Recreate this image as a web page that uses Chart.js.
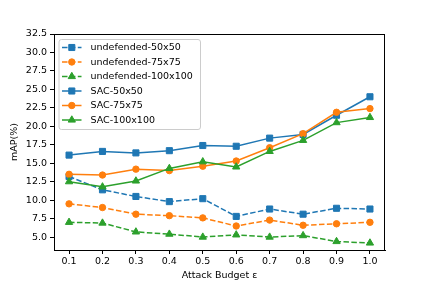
<!DOCTYPE html>
<html><head><meta charset="utf-8">
<script src="https://cdn.jsdelivr.net/npm/chart.js@4"></script>
<style>html,body{margin:0;padding:0;background:#fff;} canvas{display:block;}</style>
</head><body>
<canvas id="c" width="428" height="286"></canvas>
<script>
const budgets = [0.1, 0.2, 0.3, 0.4, 0.5, 0.6, 0.7, 0.8, 0.9, 1.0];
const undef50  = [13.2, 11.4, 10.5, 9.8, 10.2, 7.8, 8.8, 8.1, 8.9, 8.8];
const undef75  = [9.5, 9.0, 8.1, 7.9, 7.6, 6.5, 7.3, 6.6, 6.8, 7.0];
const undef100 = [7.0, 6.9, 5.7, 5.4, 5.0, 5.3, 5.0, 5.2, 4.4, 4.2];
const sac50    = [16.1, 16.6, 16.4, 16.7, 17.4, 17.3, 18.4, 18.9, 21.5, 24.0];
const sac75    = [13.5, 13.4, 14.2, 14.0, 14.6, 15.3, 17.1, 19.0, 21.9, 22.4];
const sac100   = [12.5, 11.8, 12.6, 14.3, 15.2, 14.5, 16.6, 18.1, 20.5, 21.2];
const yTicks = [5.0, 7.5, 10.0, 12.5, 15.0, 17.5, 20.0, 22.5, 25.0, 27.5, 30.0, 32.5];
const seriesNames = ['undefended-50x50','undefended-75x75','undefended-100x100','SAC-50x50','SAC-75x75','SAC-100x100'];

const BLUE='#1f77b4', ORANGE='#ff7f0e', GREEN='#2ca02c';
const FONT = "'DejaVu Sans', sans-serif";
const DASH = [5.5, 2.4];
const specs = [
  {data: undef50, color: BLUE, shape: 'rect', r: 4.3, dash: DASH},
  {data: undef75, color: ORANGE, shape: 'circle', r: 3.2, dash: DASH},
  {data: undef100, color: GREEN, shape: 'triangle', r: 4.2, dash: DASH},
  {data: sac50, color: BLUE, shape: 'rect', r: 4.3, dash: []},
  {data: sac75, color: ORANGE, shape: 'circle', r: 3.2, dash: []},
  {data: sac100, color: GREEN, shape: 'triangle', r: 4.2, dash: []},
];

const datasets = specs.map((s, i) => ({
  label: seriesNames[i],
  data: budgets.map((b, j) => ({x: b, y: s.data[j]})),
  borderColor: s.color,
  backgroundColor: s.color,
  borderWidth: 1.5,
  borderDash: s.dash,
  pointStyle: s.shape,
  pointRadius: s.r,
  pointBorderWidth: 1,
  pointBackgroundColor: s.color,
  pointBorderColor: s.color,
  tension: 0,
  fill: false,
  order: 10 - i
}));

function drawMarker(ctx, shape, x, y, r, color) {
  ctx.save();
  ctx.fillStyle = color; ctx.strokeStyle = color; ctx.lineWidth = 1; ctx.setLineDash([]);
  ctx.beginPath();
  if (shape === 'rect') {
    const s = Math.SQRT1_2 * r;
    ctx.rect(x - s, y - s, 2 * s, 2 * s);
  } else if (shape === 'circle') {
    ctx.arc(x, y, r, 0, Math.PI * 2);
  } else {
    let rad = 0;
    ctx.moveTo(x + Math.sin(rad) * r, y - Math.cos(rad) * r);
    rad += 2 * Math.PI / 3;
    ctx.lineTo(x + Math.sin(rad) * r, y - Math.cos(rad) * r);
    rad += 2 * Math.PI / 3;
    ctx.lineTo(x + Math.sin(rad) * r, y - Math.cos(rad) * r);
    ctx.closePath();
  }
  ctx.fill(); ctx.stroke();
  ctx.restore();
}

const framePlugin = {
  id: 'frame',
  afterDraw(chart) {
    const {ctx, chartArea: a} = chart;
    ctx.save();
    ctx.strokeStyle = '#000'; ctx.lineWidth = 1;
    ctx.strokeRect(Math.round(a.left) + 0.5, Math.round(a.top) + 0.5, Math.round(a.right - a.left) - 1, Math.round(a.bottom - a.top));
    ctx.restore();
  }
};

const legendPlugin = {
  id: 'mplLegend',
  afterDraw(chart) {
    const {ctx, chartArea: a} = chart;
    const x0 = a.left + 4.5, y0 = a.top + 5, w = 141.5, h = 90;
    ctx.save();
    ctx.beginPath();
    if (ctx.roundRect) ctx.roundRect(x0 + 0.5, y0 + 0.5, w, h, 2.5); else ctx.rect(x0 + 0.5, y0 + 0.5, w, h);
    ctx.fillStyle = 'rgba(255,255,255,0.8)';
    ctx.fill();
    ctx.strokeStyle = '#cccccc'; ctx.lineWidth = 1; ctx.stroke();
    ctx.font = "9.5px " + FONT;
    ctx.textBaseline = 'middle';
    specs.forEach((s, i) => {
      const y = y0 + 8.5 + i * 14.5;
      ctx.strokeStyle = s.color; ctx.lineWidth = 1.5; ctx.setLineDash(s.dash);
      ctx.beginPath(); ctx.moveTo(x0 + 3.5, y); ctx.lineTo(x0 + 23, y); ctx.stroke();
      drawMarker(ctx, s.shape, x0 + 13.3, y, s.r, s.color);
      ctx.fillStyle = '#000';
      ctx.fillText(seriesNames[i], x0 + 32, y + 0.5);
    });
    ctx.restore();
  }
};

const tickFont = {family: FONT, size: 9.5};

new Chart(document.getElementById('c'), {
  type: 'line',
  data: {datasets},
  options: {
    responsive: false,
    animation: false,
    devicePixelRatio: 1,
    layout: {padding: {top: 34, right: 43, left: 0, bottom: 0}},
    plugins: {legend: {display: false}, tooltip: {enabled: false}},
    scales: {
      x: {
        type: 'linear', min: 0.055, max: 1.045,
        afterBuildTicks: s => { s.ticks = budgets.map(v => ({value: v})); },
        afterFit: s => { s.height = 36; },
        ticks: {callback: v => Number(v).toFixed(1), font: tickFont, color: '#000', padding: 2, maxRotation: 0, autoSkip: false},
        grid: {drawOnChartArea: false, drawTicks: true, tickLength: 4, color: '#000', tickWidth: 1},
        border: {color: '#000', width: 1},
        title: {display: true, text: 'Attack Budget ε', font: tickFont, color: '#000', padding: {top: 0, bottom: 5}}
      },
      y: {
        type: 'linear', min: 3.25, max: 32.5,
        afterBuildTicks: s => { s.ticks = yTicks.map(v => ({value: v})); },
        afterFit: s => { s.width = 54; },
        ticks: {callback: v => Number(v).toFixed(1), font: tickFont, color: '#000', padding: 3, autoSkip: false},
        grid: {drawOnChartArea: false, drawTicks: true, tickLength: 4, color: '#000', tickWidth: 1},
        border: {color: '#000', width: 1},
        title: {display: true, text: 'mAP(%)', font: tickFont, color: '#000', padding: {top: 9, bottom: 0}}
      }
    }
  },
  plugins: [framePlugin, legendPlugin]
});
</script>
</body></html>
